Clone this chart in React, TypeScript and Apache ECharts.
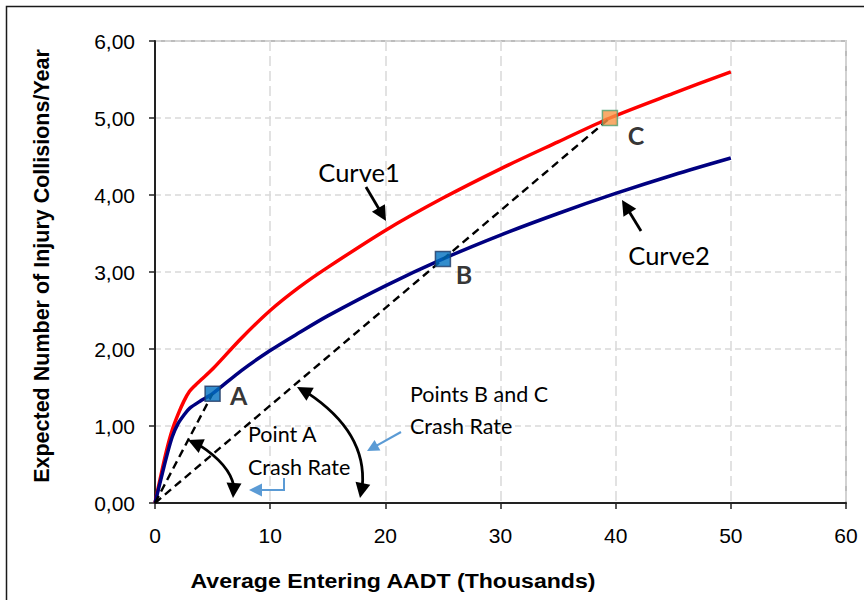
import React, { useEffect, useRef } from "react";
import * as echarts from "echarts";

// Curve1 (red)
const curve1X = [0, 0.5, 1, 1.5, 2, 2.5, 3, 3.5, 4, 5, 7.5, 10, 12.5, 15, 20, 25, 30, 35, 39.5, 45, 50];
const curve1Y = [0, 0.35, 0.68, 0.95, 1.15, 1.32, 1.45, 1.53, 1.6, 1.74, 2.14, 2.5, 2.8, 3.06, 3.54, 3.96, 4.34, 4.69, 5.0, 5.32, 5.6];
// Curve2 (navy)
const curve2X = [0, 0.5, 1, 1.5, 2, 2.5, 3, 4, 5, 7.5, 10, 12.5, 15, 20, 25, 30, 35, 40, 45, 50];
const curve2Y = [0, 0.3, 0.6, 0.86, 1.03, 1.14, 1.23, 1.33, 1.42, 1.72, 1.98, 2.21, 2.43, 2.82, 3.17, 3.48, 3.76, 4.02, 4.26, 4.48];
// Points
const pointNames = ["A", "B", "C"];
const pointX = [5, 25, 39.5];
const pointY = [1.42, 3.17, 5.0];
// Axis ticks
const xTicks = [0, 10, 20, 30, 40, 50, 60];
const yTicks = [0, 1, 2, 3, 4, 5, 6];

const TEXT_FONT = "Lato, 'Open Sans', sans-serif";
const AXIS_FONT = "'Liberation Sans', Arial, sans-serif";

function arrowHead(tip: number[], from: number[], color: string, len = 14, half = 7) {
  const dx = tip[0] - from[0];
  const dy = tip[1] - from[1];
  const d = Math.sqrt(dx * dx + dy * dy) || 1;
  const ux = dx / d, uy = dy / d;
  const bx = tip[0] - ux * len, by = tip[1] - uy * len;
  return {
    type: "polygon",
    shape: { points: [tip, [bx - uy * half, by + ux * half], [bx + uy * half, by - ux * half]] },
    style: { fill: color },
    z: 100,
  };
}

function straightArrow(from: number[], tip: number[], color: string, width = 2.5, len = 14, half = 7) {
  const dx = tip[0] - from[0];
  const dy = tip[1] - from[1];
  const d = Math.sqrt(dx * dx + dy * dy) || 1;
  const end = [tip[0] - (dx / d) * (len - 2), tip[1] - (dy / d) * (len - 2)];
  return [
    { type: "line", shape: { x1: from[0], y1: from[1], x2: end[0], y2: end[1] }, style: { stroke: color, lineWidth: width }, z: 100 },
    arrowHead(tip, from, color, len, half),
  ];
}

function curvedArrow(p0: number[], pm: number[], p2: number[], color: string) {
  const cp = [2 * pm[0] - (p0[0] + p2[0]) / 2, 2 * pm[1] - (p0[1] + p2[1]) / 2];
  const len = 15, half = 7.5;
  const shorten = (p: number[], q: number[]) => {
    const dx = p[0] - q[0], dy = p[1] - q[1];
    const d = Math.sqrt(dx * dx + dy * dy) || 1;
    return [p[0] - (dx / d) * (len - 3), p[1] - (dy / d) * (len - 3)];
  };
  const s0 = shorten(p0, cp);
  const s2 = shorten(p2, cp);
  const cp2 = [2 * pm[0] - (s0[0] + s2[0]) / 2, 2 * pm[1] - (s0[1] + s2[1]) / 2];
  return [
    {
      type: "bezierCurve",
      shape: { x1: s0[0], y1: s0[1], x2: s2[0], y2: s2[1], cpx1: cp2[0], cpy1: cp2[1] },
      style: { stroke: color, lineWidth: 2.8, fill: "none" },
      z: 100,
    },
    arrowHead(p0, cp, color, len, half),
    arrowHead(p2, cp, color, len, half),
  ];
}

export default function App() {
  const ref = useRef<HTMLDivElement>(null);
  useEffect(() => {
    if (!ref.current) return;
    const chart = echarts.init(ref.current, null, { renderer: "svg" });
    const blue = "#5B9BD5";
    const annot = (text: string, x: number, y: number, size: number, align = "left") => ({
      type: "text",
      x,
      y,
      z: 100,
      style: { text, font: `${size}px ${TEXT_FONT}`, fill: "#000", align, verticalAlign: "middle" },
    });
    const graphics: any[] = [
      {
        type: "rect",
        shape: { x: 6.5, y: 6.5, width: 880, height: 620 },
        style: { fill: "none", stroke: "#1a1a1a", lineWidth: 1.5 },
        z: 0,
        silent: true,
      },
      {
        type: "text",
        x: 42,
        y: 266,
        rotation: Math.PI / 2,
        style: {
          text: "Expected Number of Injury Collisions/Year",
          font: `bold 21.5px ${AXIS_FONT}`,
          fill: "#000",
          align: "center",
          verticalAlign: "middle",
        },
      },
      {
        type: "text",
        x: 393,
        y: 581,
        scaleX: 1.1,
        style: {
          text: "Average Entering AADT (Thousands)",
          font: `bold 21px ${AXIS_FONT}`,
          fill: "#000",
          align: "center",
          verticalAlign: "middle",
        },
      },
      annot("Curve1", 359, 172, 25.5, "center"),
      annot("Curve2", 669, 255, 25.5, "center"),
      annot("Point A", 248, 434, 21.5),
      annot("Crash Rate", 248, 467, 21.5),
      annot("Points B and C", 410, 394, 21.5),
      annot("Crash Rate", 410, 426, 21.5),
      ...straightArrow([366, 187], [386, 221], "#000", 2.8, 15, 7.5),
      ...straightArrow([641, 231], [622, 200], "#000", 2.8, 15, 7.5),
      ...curvedArrow([188, 440], [223, 465], [233, 498], "#000"),
      ...curvedArrow([297, 387], [351, 436], [360, 498], "#000"),
      ...straightArrow([401, 432], [367, 451], blue, 2.2, 12, 6),
      {
        type: "polyline",
        shape: { points: [[284, 478], [284, 490], [262, 490]] },
        style: { stroke: blue, lineWidth: 2, fill: "none" },
        z: 100,
      },
      arrowHead([249, 490], [262, 490], blue, 13, 6.5),
    ];

    chart.setOption({
      animation: false,
      grid: {
        left: 155,
        top: 41,
        right: 18,
        bottom: 97,
        show: true,
        borderColor: "#a6a6a6",
        borderWidth: 1.5,
        backgroundColor: "transparent",
      },
      xAxis: {
        type: "value",
        min: xTicks[0],
        max: xTicks[xTicks.length - 1],
        interval: 10,
        axisLine: { show: true, onZero: false, lineStyle: { color: "#222", width: 2 } },
        axisTick: { show: true, inside: false, length: 6, lineStyle: { color: "#222", width: 1.5 } },
        axisLabel: { color: "#000", fontSize: 21, fontFamily: AXIS_FONT, margin: 22 },
        splitLine: { show: true, lineStyle: { color: "#d9d9d9", width: 1.5, type: [10, 5] } },
      },
      yAxis: {
        type: "value",
        min: yTicks[0],
        max: yTicks[yTicks.length - 1],
        interval: 1,
        axisLine: { show: true, onZero: false, lineStyle: { color: "#222", width: 2 } },
        axisTick: { show: true, inside: false, length: 6, lineStyle: { color: "#222", width: 1.5 } },
        axisLabel: {
          color: "#000",
          fontSize: 21,
          fontFamily: AXIS_FONT,
          margin: 20,
          formatter: (v: number) => v.toFixed(2).replace(".", ","),
        },
        splitLine: { show: true, lineStyle: { color: "#d9d9d9", width: 1.5, type: [6, 4] } },
      },
      graphic: graphics,
      series: [
        {
          name: "Curve1",
          type: "line",
          data: curve1X.map((x, i) => [x, curve1Y[i]]),
          showSymbol: false,
          smooth: 0.3,
          lineStyle: { color: "#FF0000", width: 3.5 },
          z: 2,
        },
        {
          name: "Curve2",
          type: "line",
          data: curve2X.map((x, i) => [x, curve2Y[i]]),
          showSymbol: false,
          smooth: 0.3,
          lineStyle: { color: "#000080", width: 3.5 },
          z: 3,
        },
        {
          name: "Rate A",
          type: "line",
          data: [[0, 0], [pointX[0], pointY[0]]],
          showSymbol: false,
          lineStyle: { color: "#000", width: 2.4, type: [8, 5] },
          z: 4,
        },
        {
          name: "Rate BC",
          type: "line",
          data: [[0, 0], [pointX[2], pointY[2]]],
          showSymbol: false,
          lineStyle: { color: "#000", width: 2.4, type: [8, 5] },
          z: 4,
        },
        {
          name: "Points",
          type: "scatter",
          symbol: "rect",
          symbolSize: 15,
          z: 5,
          data: pointNames.map((n, i) => ({
            name: n,
            value: [pointX[i], pointY[i]],
            itemStyle:
              n === "C"
                ? { color: "#F79646", borderColor: "#4EA072", borderWidth: 1.5 }
                : { color: "#0070C0", borderColor: "#1F3864", borderWidth: 1.5 },
            label: {
              show: true,
              formatter: n,
              position: "inside",
              offset: n === "A" ? [26, 1] : n === "B" ? [21, 15] : [26, 17],
              color: "#000",
              fontWeight: "bold",
              fontSize: 25,
              fontFamily: TEXT_FONT,
            },
          })),
        },
      ],
    });
    return () => chart.dispose();
  }, []);
  return <div ref={ref} style={{ position: "absolute", left: 0, top: 0, width: 864, height: 600 }} />;
}
